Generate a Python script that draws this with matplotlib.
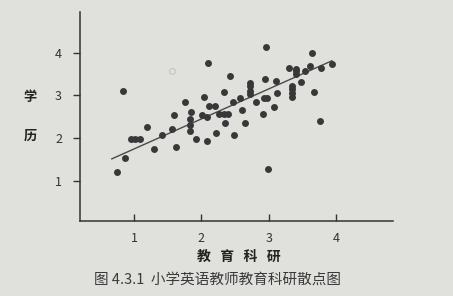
"""
Scatter plot of teachers' education research score vs degree level
"""

import matplotlib.pyplot as plt

plt.rcParams['font.family'] = ['Noto Sans CJK SC', 'DejaVu Sans']

# Data
research = [0.74, 0.87, 0.83, 0.95, 1.02, 1.09, 1.20, 1.29, 1.42, 1.56, 1.59, 1.63,
            1.75, 1.85, 1.83, 1.83, 1.83, 1.92, 2.01, 2.08, 2.04, 2.10, 2.08, 2.11,
            2.21, 2.22, 2.26, 2.33, 2.40, 2.33, 2.35, 2.42, 2.47, 2.49, 2.57, 2.60,
            2.65, 2.73, 2.73, 2.73, 2.73, 2.81, 2.92, 2.93, 2.98, 2.95, 2.96, 2.99,
            3.08, 3.11, 3.12, 3.30, 3.34, 3.34, 3.34, 3.34, 3.40, 3.40, 3.40, 3.48,
            3.54, 3.62, 3.64, 3.67, 3.78, 3.76, 3.94]
degree = [1.21, 1.54, 3.09, 1.98, 1.97, 1.97, 2.26, 1.73, 2.08, 2.22, 2.53, 1.78,
          2.85, 2.61, 2.44, 2.30, 2.16, 1.98, 2.53, 2.49, 2.96, 3.75, 1.93, 2.76,
          2.74, 2.11, 2.57, 2.56, 2.56, 3.08, 2.34, 3.45, 2.84, 2.07, 2.94, 2.65,
          2.34, 3.30, 3.21, 3.11, 3.02, 2.84, 2.55, 2.93, 2.94, 3.38, 4.13, 1.28,
          2.72, 3.33, 3.06, 3.63, 3.22, 3.14, 3.05, 2.97, 3.62, 3.56, 3.49, 3.32,
          3.58, 3.69, 3.99, 3.07, 3.63, 2.39, 3.74]

# faint hollow mark in the print
faint_x = [1.57]
faint_y = [3.56]

# fitted line ends
fit_x = [0.67, 3.94]
fit_y = [1.51, 3.81]

ticks = [1, 2, 3, 4]
ink = '#333333'
paper = '#e0e0dd'

fig = plt.figure(figsize=(4.53, 2.96), dpi=100, facecolor=paper)
ax = fig.add_axes([0.177, 0.253, 0.691, 0.706])
ax.set_facecolor(paper)

# Plot the points and the regression line
ax.scatter(research, degree, s=25, color='#383838', zorder=3, linewidths=0)
ax.scatter(faint_x, faint_y, s=18, facecolors='none', edgecolors='#c4c4c2',
           linewidths=0.8, zorder=2)
ax.plot(fit_x, fit_y, '-', color='#4a4a4a', linewidth=1.0, zorder=2)

ax.set_xlim(0.2, 4.85)
ax.set_ylim(0.05, 4.95)
ax.set_xticks(ticks)
ax.set_yticks(ticks)
ax.set_xticklabels([str(t) for t in ticks])
ax.set_yticklabels([str(t) for t in ticks])

for side in ['top', 'right']:
    ax.spines[side].set_visible(False)
for side in ['left', 'bottom']:
    ax.spines[side].set_color(ink)
    ax.spines[side].set_linewidth(1.1)

ax.tick_params(axis='x', direction='in', length=5, width=1.0, colors=ink,
               labelsize=9, pad=8)
ax.tick_params(axis='y', direction='out', length=5, width=1.0, colors=ink,
               labelsize=9, pad=8)

# Axis labels
ax.set_xlabel('教   育   科   研', fontsize=10, fontweight='bold', color='#222222')
ax.xaxis.set_label_coords(0.508, -0.139)
ax.set_ylabel('学\n\n历', fontsize=9.5, fontweight='bold', color='#222222',
              rotation=0, linespacing=1.5, va='center', labelpad=18)

# Caption
fig.text(0.48, 0.055, '图 4.3.1  小学英语教师教育科研散点图', fontsize=10.5,
         color='#3a3a3a', ha='center', va='center')

plt.savefig('out.png', dpi=100, facecolor=paper)
